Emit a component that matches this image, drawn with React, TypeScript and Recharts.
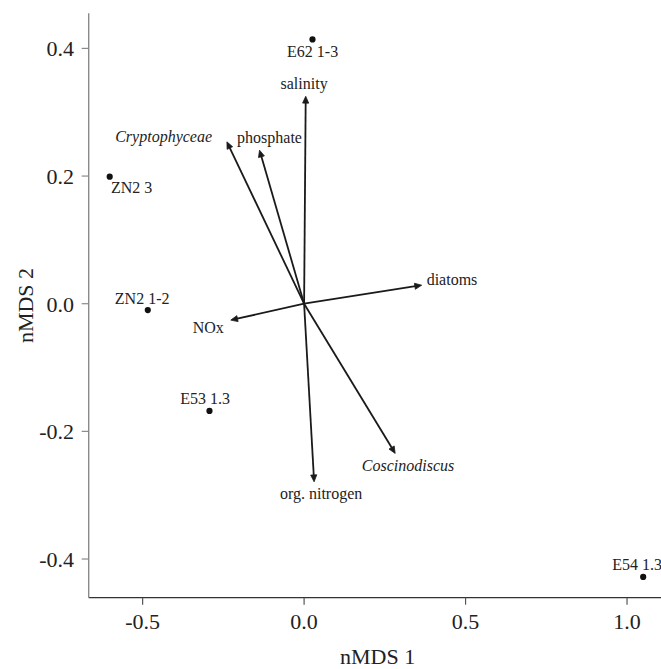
import React from 'react';
import { ScatterChart, Scatter, XAxis, YAxis, ReferenceLine } from 'recharts';

const FONT = '"Liberation Serif", "Times New Roman", Times, serif';

// Site scores (nMDS 1, nMDS 2)
const siteNames = ['E62 1-3', 'ZN2 3', 'ZN2 1-2', 'E53 1.3', 'E54 1.3'];
const siteX = [0.026, -0.602, -0.484, -0.293, 1.05];
const siteY = [0.414, 0.199, -0.01, -0.168, -0.428];
// Site label anchor (centre of text), data units
const siteLabelX = [0.0263, -0.534, -0.5015, -0.3065, 1.031];
const siteLabelY = [0.3953, 0.1815, 0.0077, -0.149, -0.4086];

// Fitted vectors (arrow tips)
const vectorNames = ['salinity', 'phosphate', 'Cryptophyceae', 'diatoms', 'NOx', 'org. nitrogen', 'Coscinodiscus'];
const vectorX = [0.005, -0.138, -0.239, 0.364, -0.227, 0.031, 0.282];
const vectorY = [0.325, 0.2406, 0.2536, 0.029, -0.0257, -0.279, -0.2345];
const vectorLabelX = [0.0, -0.107, -0.435, 0.458, -0.297, 0.0526, 0.322];
const vectorLabelY = [0.3455, 0.261, 0.2625, 0.0385, -0.0367, -0.2966, -0.2528];
const vectorItalic = [false, false, true, false, false, false, true];

const xTicks = [-0.5, 0, 0.5, 1.0];
const yTicks = [-0.4, -0.2, 0, 0.2, 0.4];
const xDomain: [number, number] = [-0.667, 1.116];
const yDomain: [number, number] = [-0.4606, 0.455];

const sites = siteNames.map((n, i) => ({ x: siteX[i], y: siteY[i], name: n }));
const siteLabels = siteNames.map((n, i) => ({ x: siteLabelX[i], y: siteLabelY[i], name: n, italic: false }));
const vectorLabels = vectorNames.map((n, i) => ({ x: vectorLabelX[i], y: vectorLabelY[i], name: n, italic: vectorItalic[i] }));

const ARROW = '#1a1a1a';

function ArrowShape(props: any) {
  const { x1, y1, x2, y2 } = props;
  const ang = Math.atan2(y2 - y1, x2 - x1);
  const L = 7.5;
  const a = Math.PI / 7.5;
  const p1x = x2 - L * Math.cos(ang - a);
  const p1y = y2 - L * Math.sin(ang - a);
  const p2x = x2 - L * Math.cos(ang + a);
  const p2y = y2 - L * Math.sin(ang + a);
  const ex = x2 - 3 * Math.cos(ang);
  const ey = y2 - 3 * Math.sin(ang);
  return (
    <g>
      <line x1={x1} y1={y1} x2={ex} y2={ey} stroke={ARROW} strokeWidth={1.8} />
      <polygon
        points={`${x2},${y2} ${p1x},${p1y} ${p2x},${p2y}`}
        fill={ARROW}
        stroke={ARROW}
        strokeWidth={0.8}
        strokeLinejoin="miter"
      />
    </g>
  );
}

function Dot(props: any) {
  const { cx, cy } = props;
  return <circle cx={cx} cy={cy} r={3.1} fill="#111" />;
}

function TextShape(props: any) {
  const { cx, cy, payload } = props;
  return (
    <text
      x={cx}
      y={cy}
      dy="0.35em"
      textAnchor="middle"
      fill="#222"
      style={{
        fontSize: 16,
        fontFamily: FONT,
        fontStyle: payload.italic ? 'italic' : 'normal',
      }}
    >
      {payload.name}
    </text>
  );
}

const fmt = (v: number) => v.toFixed(1);

export default function App() {
  return (
    <div style={{ position: 'absolute', left: 0, top: 0, width: 661, height: 669 }}>
      <ScatterChart
        width={661}
        height={669}
        margin={{ top: 13.3, right: -3.5, left: 8.7, bottom: 0 }}
      >
        <XAxis
          xAxisId="top"
          orientation="top"
          type="number"
          dataKey="x"
          domain={xDomain}
          allowDataOverflow
          height={0}
          tick={false}
          tickLine={false}
          axisLine={{ stroke: '#333', strokeWidth: 1.3 }}
        />
        <XAxis
          type="number"
          dataKey="x"
          domain={xDomain}
          ticks={xTicks}
          allowDataOverflow
          tickFormatter={fmt}
          height={71.3}
          tickSize={7}
          tickMargin={8.7}
          axisLine={{ stroke: '#333', strokeWidth: 1.3 }}
          tickLine={{ stroke: '#555', strokeWidth: 1.2 }}
          tick={{ fontSize: 22, fill: '#222', fontFamily: FONT, style: { fontFamily: FONT } }}
          label={{
            value: 'nMDS 1',
            position: 'insideBottom',
            offset: 5,
            dx: 1,
            style: { fontSize: 22, fill: '#222', fontFamily: FONT },
          }}
        />
        <YAxis
          type="number"
          dataKey="y"
          domain={yDomain}
          ticks={yTicks}
          allowDataOverflow
          tickFormatter={fmt}
          width={80}
          tickSize={7}
          tickMargin={7.7}
          axisLine={{ stroke: '#8a8a8a', strokeWidth: 1.4 }}
          tickLine={{ stroke: '#8a8a8a', strokeWidth: 1.2 }}
          tick={{ fontSize: 22, fill: '#222', fontFamily: FONT, style: { fontFamily: FONT } }}
          label={{
            value: 'nMDS 2',
            angle: -90,
            position: 'insideLeft',
            offset: 16.8,
            style: { fontSize: 22, fill: '#222', fontFamily: FONT, textAnchor: 'middle' },
          }}
        />
        {vectorNames.map((n, i) => (
          <ReferenceLine
            key={n}
            segment={[
              { x: 0, y: 0 },
              { x: vectorX[i], y: vectorY[i] },
            ]}
            ifOverflow="visible"
            shape={ArrowShape}
          />
        ))}
        <Scatter data={sites} shape={Dot} isAnimationActive={false} />
        <Scatter data={siteLabels} shape={TextShape} isAnimationActive={false} />
        <Scatter data={vectorLabels} shape={TextShape} isAnimationActive={false} />
      </ScatterChart>
    </div>
  );
}
